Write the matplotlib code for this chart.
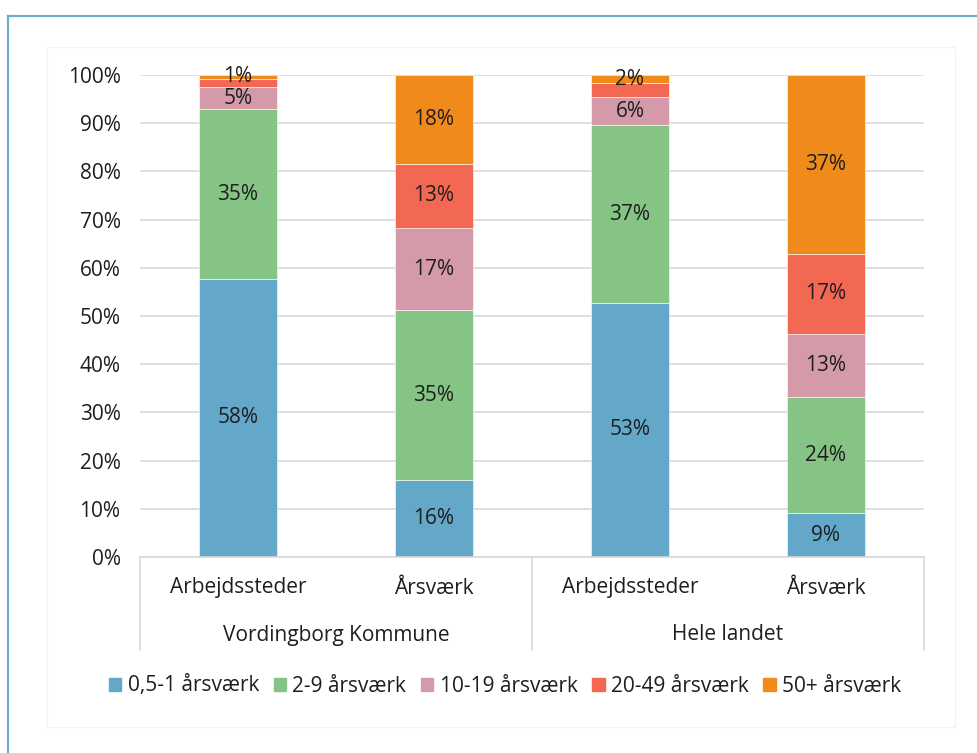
import matplotlib
matplotlib.use("Agg")
import matplotlib.pyplot as plt
import matplotlib.transforms as mtransforms
from matplotlib.patches import Rectangle
import numpy as np

plt.rcParams['font.family'] = ['Open Sans', 'DejaVu Sans']

bar_labels = ["Arbejdssteder", "Årsværk", "Arbejdssteder", "Årsværk"]
groups = ["Vordingborg Kommune", "Hele landet"]
series = ["0,5-1 årsværk", "2-9 årsværk", "10-19 årsværk", "20-49 årsværk", "50+ årsværk"]
s_05_1 = [57.7, 16.0, 52.7, 9.1]
s_2_9 = [35.2, 35.2, 36.9, 24.1]
s_10_19 = [4.6, 17.1, 5.8, 13.1]
s_20_49 = [1.7, 13.3, 2.9, 16.6]
s_50p = [0.8, 18.4, 1.7, 37.1]
values = [s_05_1, s_2_9, s_10_19, s_20_49, s_50p]
# which labels are shown (Excel hides overlapping ones)
show = [[True]*4, [True]*4, [True]*4, [False, True, False, True], [True]*4]
colors = ["#63A7C9", "#85C485", "#D59AA9", "#F26852", "#F08A1A"]
yticks = [0, 10, 20, 30, 40, 50, 60, 70, 80, 90, 100]

FS = 15
TC = "#1e1e1e"
W, H = 978, 753
fig = plt.figure(figsize=(W/100, H/100), dpi=100)

# outer blue frame (cut at right/bottom)
fig.add_artist(plt.Line2D([8/W, 8/W], [0, 1-16/H], color="#6AAFCB", lw=1.6, transform=fig.transFigure))
fig.add_artist(plt.Line2D([8/W, 1], [1-16/H, 1-16/H], color="#6AAFCB", lw=1.6, transform=fig.transFigure))
# faint chart area
fig.add_artist(Rectangle((47/W, 1-727/H), (955-47)/W, (727-47)/H, fill=False,
                         ec="#f3f3f3", lw=0.8, transform=fig.transFigure))

left, right, top, bottom = 140, 924, 75, 557
ax = fig.add_axes([left/W, 1-bottom/H, (right-left)/W, (bottom-top)/H])
x = np.arange(len(bar_labels))
base = np.zeros(len(bar_labels))
for vals, col, sh in zip(values, colors, show):
    vals = np.array(vals)
    ax.bar(x, vals, 0.4, bottom=base, color=col, edgecolor="white", linewidth=0.4, zorder=2)
    for xi, b, v, s in zip(x, base, vals, sh):
        if s:
            ax.text(xi, b + v/2, f"{round(v)}%", ha="center", va="center",
                    fontsize=FS, color=TC, zorder=3)
    base = base + vals

ax.set_xlim(-0.5, 3.5)
ax.set_ylim(0, 100)
ax.set_yticks(yticks)
ax.set_yticklabels([f"{t}%" for t in yticks], fontsize=FS, color=TC)
ax.tick_params(axis='y', length=0, pad=14)
ax.set_xticks([])
for sp in ["top", "right", "left"]:
    ax.spines[sp].set_visible(False)
ax.spines["bottom"].set_color("#d9d9d9")
ax.spines["bottom"].set_linewidth(1.2)
ax.yaxis.grid(True, color="#d9d9d9", lw=1.2, zorder=0)
ax.set_axisbelow(True)

# multi-level category axis
trans = mtransforms.blended_transform_factory(ax.transData, fig.transFigure)
for xs in [-0.5, 1.5, 3.5]:
    ax.add_artist(plt.Line2D([xs, xs], [1-557/H, 1-650/H], color="#d9d9d9", lw=1.2,
                             transform=trans, clip_on=False))
for xi, lab in zip(x, bar_labels):
    ax.text(xi, 1-588/H, lab, ha="center", va="center", fontsize=FS, color=TC,
            transform=trans, clip_on=False)
for gi, g in enumerate(groups):
    ax.text(gi*2 + 0.5, 1-635/H, g, ha="center", va="center", fontsize=FS, color=TC,
            transform=trans, clip_on=False)

handles = [Rectangle((0, 0), 1, 1, color=c) for c in colors]
fig.legend(handles, series, loc="center", bbox_to_anchor=(505/W, 1-686/H), ncol=5,
           frameon=False, fontsize=FS, handlelength=0.6, handleheight=0.6,
           handletextpad=0.3, columnspacing=0.7, labelcolor=TC)

fig.savefig("out.png", dpi=100)
